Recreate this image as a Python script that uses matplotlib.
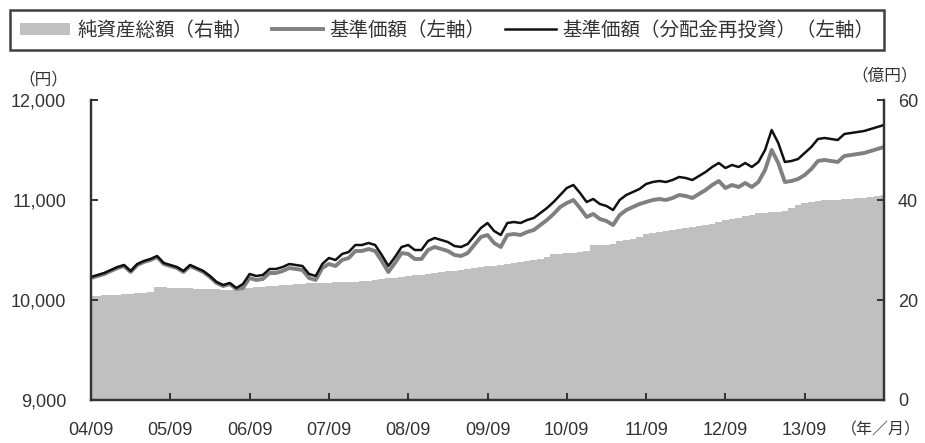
import matplotlib
matplotlib.use('Agg')
import matplotlib.pyplot as plt
from matplotlib.patches import Patch
from matplotlib.lines import Line2D

JP = ['Noto Sans CJK JP', 'DejaVu Sans']
NUM = ['Liberation Sans', 'DejaVu Sans']

# 月末ごとの値 (2004/09 〜 2014/09)
tick_months = [0, 12, 24, 36, 48, 60, 72, 84, 96, 108]
tick_labels = ['04/09', '05/09', '06/09', '07/09', '08/09',
               '09/09', '10/09', '11/09', '12/09', '13/09']

# 基準価額(分配金再投資) 円
nav_reinv = [10230, 10250, 10270, 10300, 10330, 10350, 10290, 10360, 10390, 10410,
             10440, 10370, 10350, 10330, 10290, 10350, 10320, 10290, 10240, 10180,
             10150, 10170, 10120, 10160, 10260, 10240, 10250, 10310, 10310, 10330,
             10360, 10350, 10340, 10260, 10240, 10360, 10420, 10400, 10460, 10480,
             10550, 10550, 10570, 10550, 10450, 10340, 10430, 10530, 10550, 10500,
             10500, 10590, 10620, 10600, 10580, 10540, 10530, 10560, 10640, 10720,
             10770, 10690, 10650, 10770, 10780, 10770, 10800, 10820, 10870, 10920,
             10980, 11050, 11120, 11150, 11070, 10980, 11010, 10960, 10940, 10900,
             11000, 11050, 11080, 11110, 11160, 11180, 11190, 11180, 11200, 11230,
             11220, 11200, 11240, 11280, 11330, 11370, 11320, 11350, 11330, 11370,
             11330, 11380, 11500, 11700, 11570, 11380, 11390, 11410, 11470, 11530,
             11610, 11620, 11610, 11600, 11660, 11670, 11680, 11690, 11710, 11730,
             11750]

# 基準価額 円
nav = [10220, 10240, 10260, 10290, 10320, 10340, 10280, 10350, 10380, 10400,
       10430, 10360, 10340, 10320, 10280, 10340, 10310, 10280, 10230, 10170,
       10140, 10160, 10110, 10120, 10220, 10200, 10210, 10270, 10270, 10290,
       10320, 10310, 10300, 10220, 10200, 10320, 10360, 10340, 10400, 10420,
       10490, 10490, 10510, 10490, 10390, 10280, 10370, 10470, 10460, 10410,
       10410, 10500, 10530, 10510, 10490, 10450, 10440, 10470, 10550, 10630,
       10650, 10570, 10530, 10650, 10660, 10650, 10680, 10700, 10750, 10800,
       10860, 10930, 10970, 11000, 10920, 10830, 10860, 10810, 10790, 10750,
       10850, 10900, 10930, 10960, 10980, 11000, 11010, 11000, 11020, 11050,
       11040, 11020, 11060, 11100, 11150, 11190, 11120, 11150, 11130, 11170,
       11130, 11180, 11300, 11500, 11370, 11180, 11190, 11210, 11250, 11310,
       11390, 11400, 11390, 11380, 11440, 11450, 11460, 11470, 11490, 11510,
       11530]

# 純資産総額 億円
assets = [20.8, 20.9, 21.0, 21.0, 21.1, 21.2, 21.3, 21.4, 21.5, 21.6,
          22.6, 22.6, 22.5, 22.5, 22.4, 22.4, 22.3, 22.3, 22.2, 22.2,
          22.1, 22.1, 22.2, 22.4, 22.4, 22.6, 22.7, 22.8, 22.9, 23.0,
          23.1, 23.2, 23.3, 23.4, 23.4, 23.5, 23.5, 23.6, 23.6, 23.7,
          23.7, 23.8, 23.9, 24.0, 24.2, 24.4, 24.5, 24.6, 24.8, 25.0,
          25.1, 25.3, 25.5, 25.6, 25.8, 25.9, 26.1, 26.3, 26.4, 26.6,
          26.8, 26.9, 27.1, 27.2, 27.4, 27.6, 27.8, 28.0, 28.2, 28.6,
          29.2, 29.3, 29.4, 29.5, 29.6, 29.8, 31.0, 31.0, 31.1, 31.2,
          31.8, 32.0, 32.3, 32.6, 33.2, 33.5, 33.7, 33.9, 34.0, 34.2,
          34.4, 34.6, 34.8, 35.0, 35.3, 35.6, 36.0, 36.2, 36.5, 36.8,
          37.1, 37.4, 37.5, 37.6, 37.6, 37.8, 38.4, 39.0, 39.4, 39.6,
          39.8, 40.0, 40.0, 40.1, 40.2, 40.3, 40.4, 40.5, 40.6, 40.8,
          41.0]

months = list(range(len(nav_reinv)))

AREA = '#c0c0c0'
GRAY = '#808080'
DARK = '#111111'
AXC = '#333333'

fig = plt.figure(figsize=(9.25, 4.43), dpi=100)
ax = fig.add_axes([91 / 925, 1 - 400 / 443, (884 - 91) / 925, 300 / 443])
axr = ax.twinx()

# 純資産総額は右軸、線の後ろに
axr.fill_between(months, assets, 0, color=AREA, lw=0, step='mid')
axr.set_ylim(0, 60)
ax.set_zorder(axr.get_zorder() + 1)
ax.patch.set_visible(False)

ax.plot(months, nav, color=GRAY, lw=2.8)
ax.plot(months, nav_reinv, color=DARK, lw=1.8)

ax.set_xlim(0, 120)
ax.set_ylim(9000, 12000)
ax.set_yticks([9000, 10000, 11000, 12000])
ax.set_yticklabels(['9,000', '10,000', '11,000', '12,000'])
ax.set_xticks(tick_months)
ax.set_xticklabels(tick_labels)
axr.set_yticks([0, 20, 40, 60])

for a in (ax, axr):
    for s in a.spines.values():
        s.set_color(AXC)
        s.set_linewidth(1.6)
    a.spines['top'].set_visible(False)

ax.tick_params(axis='y', direction='in', length=5, width=1.4, color=AXC, pad=18,
               labelsize=13, labelcolor='#333333')
ax.tick_params(axis='x', direction='in', length=5, width=1.4, color=AXC, pad=16,
               labelsize=13, labelcolor='#333333')
axr.tick_params(axis='y', direction='in', length=5, width=1.4, color=AXC, pad=10,
                labelsize=13, labelcolor='#333333')
for lab in ax.get_xticklabels() + ax.get_yticklabels() + axr.get_yticklabels():
    lab.set_family(NUM)

# 単位
fig.text(43 / 925, 1 - 80 / 443, '（円）', family=JP, fontsize=12, color='#333333',
         ha='center', va='center')
fig.text(885 / 925, 1 - 76 / 443, '（億円）', family=JP, fontsize=12, color='#333333',
         ha='center', va='center')
fig.text(881 / 925, 1 - 430 / 443, '（年／月）', family=JP, fontsize=11.5, color='#333333',
         ha='center', va='center')

handles = [Patch(facecolor=AREA, edgecolor='none'),
           Line2D([], [], color=GRAY, lw=2.8),
           Line2D([], [], color=DARK, lw=1.8)]
names = ['純資産総額（右軸）', '基準価額（左軸）', '基準価額（分配金再投資）（左軸）']
leg = fig.legend(handles, names, loc='upper left', bbox_to_anchor=(10 / 925, 1 - 10 / 443),
                 ncol=3, frameon=True, fancybox=False, edgecolor='#404040',
                 framealpha=1, handlelength=2.6, handleheight=0.6, handletextpad=0.36,
                 columnspacing=1.0, borderpad=0.5, borderaxespad=0,
                 prop={'family': JP, 'size': 14})
leg.get_frame().set_linewidth(1.8)
for t in leg.get_texts():
    t.set_color('#333333')

fig.savefig('out.png', dpi=100)
